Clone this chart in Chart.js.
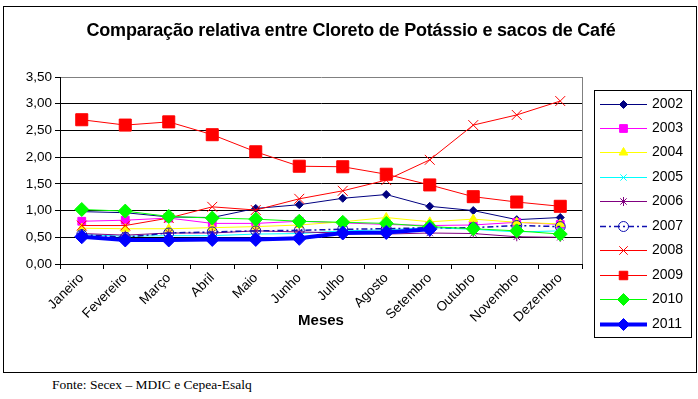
<!DOCTYPE html>
<html>
<head>
<meta charset="utf-8">
<script src="https://cdn.jsdelivr.net/npm/chart.js@4.4.1/dist/chart.umd.min.js"></script>
<style>
  html,body{margin:0;padding:0;background:#fff;width:698px;height:399px;overflow:hidden;}
  #box{position:absolute;left:3px;top:6px;width:692px;height:365px;border:1px solid #000;}
  #box canvas{display:block;}
  #fonte{position:absolute;left:52px;top:377px;font-family:"Liberation Serif","Times New Roman",serif;font-size:13.5px;color:#000;}
</style>
</head>
<body>
<div id="box"><canvas id="c" width="692" height="365"></canvas></div>
<div id="fonte">Fonte: Secex – MDIC e Cepea-Esalq</div>
<script>
const months = ["Janeiro","Fevereiro","Março","Abril","Maio","Junho","Julho","Agosto","Setembro","Outubro","Novembro","Dezembro"];
const years = ["2002","2003","2004","2005","2006","2007","2008","2009","2010","2011"];
const yTicks = [0,0.5,1,1.5,2,2.5,3,3.5];
const titleText = 'Comparação relativa entre Cloreto de Potássio e sacos de Café';

const v2002 = [0.98,0.96,0.88,0.87,1.04,1.11,1.23,1.30,1.08,1.00,0.83,0.87];
const v2003 = [0.80,0.82,0.86,0.76,0.76,0.80,0.77,0.74,0.72,0.73,0.78,0.74];
const v2004 = [0.67,0.66,0.66,0.68,0.70,0.73,0.79,0.87,0.79,0.84,0.78,0.75];
const v2005 = [0.55,0.52,0.53,0.53,0.56,0.57,0.62,0.64,0.68,0.65,0.60,0.62];
const v2006 = [0.57,0.54,0.58,0.58,0.62,0.60,0.58,0.56,0.58,0.57,0.51,0.50];
const v2007 = [0.55,0.50,0.58,0.60,0.62,0.63,0.65,0.66,0.68,0.68,0.72,0.70];
const v2008 = [0.72,0.72,0.86,1.07,1.01,1.22,1.37,1.57,1.95,2.60,2.79,3.05];
const v2009 = [2.70,2.60,2.66,2.42,2.10,1.83,1.82,1.68,1.48,1.26,1.16,1.08];
const v2010 = [1.02,0.99,0.89,0.86,0.84,0.80,0.78,0.76,0.70,0.66,0.62,0.56];
const v2011 = [0.51,0.45,0.45,0.46,0.46,0.48,0.58,0.59,0.65,null,null,null];

const seriesValues = [v2002,v2003,v2004,v2005,v2006,v2007,v2008,v2009,v2010,v2011];
const styles = [
  {color:'#000080', pointStyle:'rectRot', r:4,   w:1, fill:true},
  {color:'#FF00FF', pointStyle:'rect',    r:5.5, w:1, fill:true},
  {color:'#FFFF00', pointStyle:'triangle',r:5,   w:1, fill:true},
  {color:'#00FFFF', pointStyle:'crossRot',r:4.5, w:1, fill:false},
  {color:'#800080', pointStyle:'star',    r:4.5, w:1, fill:false},
  {color:'#1010B0', pointStyle:'circle',  r:5,   w:1.5, fill:false, dash:[6,3,2,3]},
  {color:'#FF0000', pointStyle:'crossRot',r:7,   w:1, fill:false},
  {color:'#FF0000', pointStyle:'rect',    r:8.5, w:1, fill:true},
  {color:'#00FF00', pointStyle:'rectRot', r:7,   w:1, fill:true},
  {color:'#0000FF', pointStyle:'rectRot', r:7,   w:4, fill:true}
];

const datasets = years.map((y,i)=>{
  const s = styles[i];
  return {
    label: y,
    data: seriesValues[i],
    borderColor: s.color,
    backgroundColor: s.fill ? s.color : 'rgba(0,0,0,0)',
    pointBorderColor: s.color,
    pointBackgroundColor: s.fill ? s.color : 'rgba(0,0,0,0)',
    pointStyle: s.pointStyle,
    pointRadius: s.r,
    pointBorderWidth: 1,
    borderWidth: s.w,
    borderDash: s.dash || [],
    tension: 0,
    spanGaps: false,
    order: 20 - i
  };
});

const fontFam = '"Liberation Sans", Arial, sans-serif';

const titleDraw = {
  id:'titleDraw',
  afterDraw(chart){
    const ctx = chart.ctx;
    ctx.save();
    ctx.fillStyle = '#000';
    ctx.font = 'bold 18px ' + fontFam;
    ctx.textAlign = 'center';
    ctx.textBaseline = 'middle';
    try { ctx.letterSpacing = '-0.2px'; } catch(e){}
    ctx.fillText(titleText, 347, 24);
    ctx.restore();
  }
};

const plotBorder = {
  id:'plotBorder',
  afterDatasetsDraw(chart){
    const {ctx, chartArea:a} = chart;
    ctx.save();
    ctx.strokeStyle = '#808080';
    ctx.lineWidth = 1;
    ctx.beginPath();
    ctx.moveTo(Math.round(a.right)+0.5, a.top);
    ctx.lineTo(Math.round(a.right)+0.5, a.bottom);
    ctx.stroke();
    ctx.restore();
  }
};

const customLegend = {
  id:'customLegend',
  afterDraw(chart){
    const ctx = chart.ctx;
    const bx = 590, by = 83, bw = 97, bh = 247;
    ctx.save();
    ctx.strokeStyle = '#000';
    ctx.lineWidth = 1;
    ctx.strokeRect(bx+0.5, by+0.5, bw, bh);
    const x0 = 596, x1 = 643, xm = 619.5, xt = 648;
    const y0 = 96.5, dy = 24.45;
    chart.data.datasets.forEach((ds,i)=>{
      const y = Math.round(y0 + i*dy) + 0.5;
      ctx.save();
      ctx.strokeStyle = ds.borderColor;
      ctx.lineWidth = ds.borderWidth;
      ctx.setLineDash(ds.borderDash || []);
      ctx.beginPath();
      ctx.moveTo(x0, y); ctx.lineTo(x1, y);
      ctx.stroke();
      ctx.setLineDash([]);
      const opts = {
        pointStyle: ds.pointStyle,
        radius: Math.min(ds.pointRadius, 6),
        rotation: 0,
        borderWidth: 1
      };
      ctx.strokeStyle = ds.pointBorderColor;
      ctx.fillStyle = ds.pointBackgroundColor;
      ctx.lineWidth = 1;
      if (Chart.helpers && Chart.helpers.drawPoint) {
        Chart.helpers.drawPoint(ctx, opts, xm, y);
      } else {
        ctx.beginPath(); ctx.arc(xm,y,opts.radius,0,Math.PI*2); ctx.fill(); ctx.stroke();
      }
      ctx.restore();
      ctx.fillStyle = '#000';
      ctx.font = '14px ' + fontFam;
      ctx.textBaseline = 'middle';
      ctx.textAlign = 'left';
      ctx.fillText(ds.label, xt, y);
    });
    ctx.restore();
  }
};

new Chart(document.getElementById('c'), {
  type:'line',
  data:{labels: months, datasets},
  options:{
    responsive:false,
    animation:false,
    layout:{padding:{left:0, right:114, top:70, bottom:42}},
    plugins:{
      legend:{display:false},
      tooltip:{enabled:false},
      title:{display:false}
    },
    scales:{
      x:{
        offset:true,
        afterFit(s){ s.height = 66; },
        grid:{display:true, drawOnChartArea:false, drawTicks:true, tickLength:5, color:'#000', offset:true},
        border:{display:true, color:'#000', width:1},
        ticks:{color:'#000', font:{family:fontFam, size:13.5}, minRotation:45, maxRotation:45, autoSkip:false, padding:1},
        title:{display:true, text:'Meses', color:'#000', font:{family:fontFam, size:15, weight:'bold'}, padding:0}
      },
      y:{
        min:0, max:3.5,
        afterFit(s){ s.width = 56; },
        afterBuildTicks(s){ s.ticks = yTicks.map(v=>({value:v})); },
        grid:{
          color(ctx){ return (ctx.tick && ctx.tick.value === 3.5) ? '#808080' : '#000'; },
          tickColor:'#000', tickLength:5, drawTicks:true, lineWidth:1
        },
        border:{display:true, color:'#000', width:1},
        ticks:{
          color:'#000', font:{family:fontFam, size:13.5}, padding:3,
          callback(v){ return Number(v).toFixed(2).replace('.',','); }
        }
      }
    }
  },
  plugins:[titleDraw, plotBorder, customLegend]
});
</script>
</body>
</html>
